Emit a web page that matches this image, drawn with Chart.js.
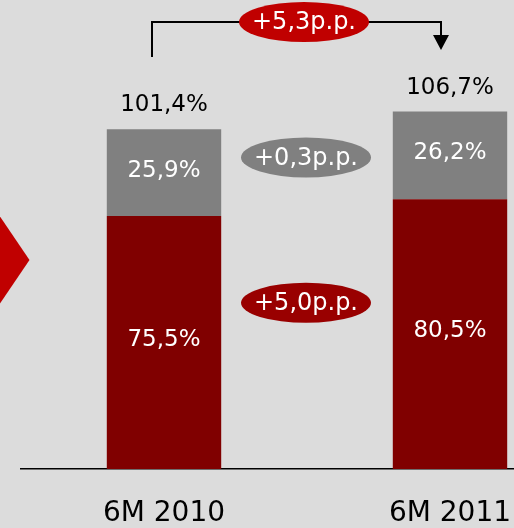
<!DOCTYPE html>
<html>
<head>
<meta charset="utf-8">
<script src="https://cdn.jsdelivr.net/npm/chart.js@4"></script>
<style>
  html, body { margin: 0; padding: 0; background: #dcdcdc; }
  #wrap { width: 514px; height: 528px; overflow: hidden; position: relative; }
  #chart { display: block; }
</style>
</head>
<body>
<div id="wrap"><canvas id="chart" width="600" height="559"></canvas></div>
<script>
const categories = ['6M 2010', '6M 2011'];
const redShare = [75.5, 80.5];
const greyShare = [25.9, 26.2];

const RED = '#800000';
const GREY = '#808080';
const FONT = '"DejaVu Sans", Verdana, sans-serif';

const fmt = v => v.toFixed(1).replace('.', ',');
const totals = redShare.map((v, i) => v + greyShare[i]);

// chevron, labels, change ovals and the bracket arrow on top
const overlay = {
  id: 'overlay',
  afterDatasetsDraw(chart) {
    const ctx = chart.ctx;
    const y = chart.scales.y;
    const redMeta = chart.getDatasetMeta(0);
    const greyMeta = chart.getDatasetMeta(1);
    const x0 = redMeta.data[0].x;
    const x1 = redMeta.data[1].x;
    const mid = (x0 + x1) / 2;

    ctx.save();

    // red chevron on the left edge
    ctx.fillStyle = '#c00000';
    ctx.beginPath();
    ctx.moveTo(-20, 187);
    ctx.lineTo(29.5, 260);
    ctx.lineTo(-20, 333);
    ctx.closePath();
    ctx.fill();

    ctx.textAlign = 'center';
    ctx.textBaseline = 'middle';
    ctx.font = '23px ' + FONT;

    // segment labels
    ctx.fillStyle = '#ffffff';
    redMeta.data.forEach((bar, i) => {
      ctx.fillText(fmt(redShare[i]) + '%', bar.x, (bar.y + bar.base) / 2 - 3);
    });
    greyMeta.data.forEach((bar, i) => {
      ctx.fillText(fmt(greyShare[i]) + '%', bar.x, (bar.y + bar.base) / 2 - 2);
    });

    // totals above the bars
    ctx.fillStyle = '#000000';
    ctx.textBaseline = 'alphabetic';
    totals.forEach((t, i) => {
      ctx.fillText(fmt(t) + '%', redMeta.data[i].x, y.getPixelForValue(t) - 18);
    });

    // bracket with arrow
    ctx.strokeStyle = '#000000';
    ctx.lineWidth = 2;
    ctx.beginPath();
    ctx.moveTo(x0 - 12, 57);
    ctx.lineTo(x0 - 12, 22);
    ctx.lineTo(x1 - 9, 22);
    ctx.lineTo(x1 - 9, 36);
    ctx.stroke();
    ctx.fillStyle = '#000000';
    ctx.beginPath();
    ctx.moveTo(x1 - 17, 35);
    ctx.lineTo(x1 - 1, 35);
    ctx.lineTo(x1 - 9, 50);
    ctx.closePath();
    ctx.fill();

    // change ovals
    ctx.font = '24px ' + FONT;
    const oval = (cx, cy, color, text) => {
      ctx.fillStyle = color;
      ctx.beginPath();
      ctx.ellipse(cx, cy, 65, 20, 0, 0, Math.PI * 2);
      ctx.fill();
      ctx.fillStyle = '#ffffff';
      ctx.textBaseline = 'middle';
      ctx.fillText(text, cx, cy + 1);
    };
    const dTotal = totals[1] - totals[0];
    const dGrey = greyShare[1] - greyShare[0];
    const dRed = redShare[1] - redShare[0];
    oval(mid - 3, 22, '#c00000', '+' + fmt(dTotal) + 'p.p.');
    oval(mid - 1, y.getPixelForValue(93), GREY, '+' + fmt(dGrey) + 'p.p.');
    oval(mid - 1, y.getPixelForValue(49.6), '#990000', '+' + fmt(dRed) + 'p.p.');

    ctx.restore();
  }
};

new Chart(document.getElementById('chart'), {
  type: 'bar',
  data: {
    labels: categories,
    datasets: [
      { data: redShare, backgroundColor: RED, borderWidth: 0 },
      { data: greyShare, backgroundColor: GREY, borderWidth: 0 }
    ]
  },
  options: {
    responsive: false,
    animation: false,
    devicePixelRatio: 1,
    layout: { padding: { left: 21, right: 7, top: 0, bottom: 0 } },
    datasets: { bar: { categoryPercentage: 1, barPercentage: 0.4 } },
    plugins: { legend: { display: false }, tooltip: { enabled: false } },
    scales: {
      x: {
        stacked: true,
        grid: { display: false, drawTicks: false },
        border: { display: true, color: '#000000', width: 1.5 },
        ticks: {
          padding: 28.2,
          color: '#000000',
          font: { family: FONT, size: 28, lineHeight: 1.2 }
        }
      },
      y: {
        stacked: true,
        display: false,
        min: 0,
        max: 140
      }
    }
  },
  plugins: [overlay]
});
</script>
</body>
</html>
